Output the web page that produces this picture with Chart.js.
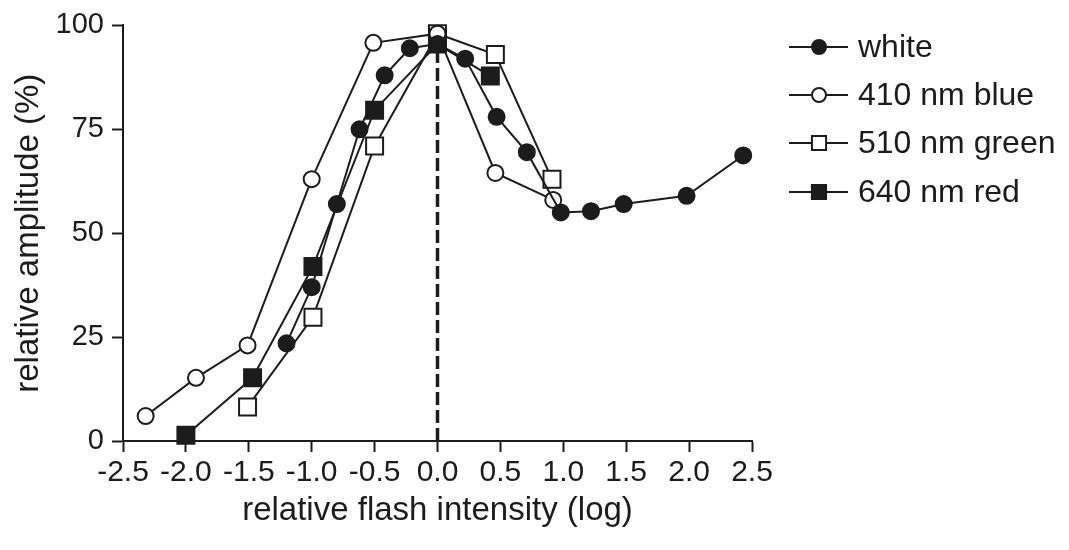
<!DOCTYPE html>
<html>
<head>
<meta charset="utf-8">
<script src="https://cdn.jsdelivr.net/npm/chart.js@4/dist/chart.umd.min.js"></script>
<style>
  html, body { margin: 0; padding: 0; background: #fff; }
  #wrap { width: 1069px; height: 550px; }
</style>
</head>
<body>
<div id="wrap"><canvas id="chart" width="1069" height="550"></canvas></div>
<script>
// values (x = log relative flash intensity, y = relative amplitude %)
const whiteX = [-1.2, -1.0, -0.8, -0.62, -0.42, -0.22, 0, 0.22, 0.47, 0.71, 0.98, 1.22, 1.48, 1.98, 2.43];
const whiteY = [23.5, 37, 57, 75, 88, 94.5, 95.5, 92, 78, 69.5, 55, 55.3, 57, 59, 68.7];

const blueX = [-2.32, -1.92, -1.51, -1.0, -0.51, 0, 0.46, 0.92];
const blueY = [6, 15.2, 23, 63, 95.8, 98, 64.5, 58];

const greenX = [-1.51, -0.99, -0.5, 0, 0.46, 0.91];
const greenY = [8.2, 29.8, 71, 98, 93, 63];

const redX = [-2.0, -1.47, -0.99, -0.5, 0, 0.42];
const redY = [1.4, 15.2, 42, 79.6, 95.5, 87.8];

const markerX = [0, 0];
const markerY = [0, 95];

const labels = ['white', '410 nm blue', '510 nm green', '640 nm red'];

const INK = '#1c1c1c';
const FONT = '"Liberation Sans", Arial, sans-serif';

function pts(xs, ys) {
    return xs.map((x, i) => ({ x: x, y: ys[i] }));
}

function series(label, xs, ys, style, filled, radius) {
    return {
        label: label,
        data: pts(xs, ys),
        showLine: true,
        borderColor: INK,
        borderWidth: 2,
        pointStyle: style,
        pointRadius: radius,
        pointHoverRadius: radius,
        pointBackgroundColor: filled ? INK : '#fff',
        pointBorderColor: INK,
        pointBorderWidth: 2,
        clip: false
    };
}

// legend drawn at the right, line + marker + text
const sideLegend = {
    id: 'sideLegend',
    afterDraw(chart) {
        const ctx = chart.ctx;
        const rows = [47, 95, 143, 192];
        ctx.save();
        chart.data.datasets.slice(0, 4).forEach((ds, i) => {
            const y = rows[i];
            ctx.strokeStyle = INK;
            ctx.lineWidth = 2;
            ctx.beginPath();
            ctx.moveTo(789, y);
            ctx.lineTo(848, y);
            ctx.stroke();
            ctx.fillStyle = ds.pointBackgroundColor;
            ctx.strokeStyle = INK;
            ctx.lineWidth = 2;
            Chart.helpers.drawPoint(ctx, {
                pointStyle: ds.pointStyle,
                rotation: 0,
                radius: ds.pointStyle === 'rect' ? 10 : 7,
                borderWidth: 2
            }, 819, y);
            ctx.fillStyle = INK;
            ctx.font = '32px ' + FONT;
            ctx.textBaseline = 'middle';
            ctx.textAlign = 'left';
            ctx.fillText(labels[i], 858, y + 1);
        });
        ctx.restore();
    }
};

new Chart(document.getElementById('chart'), {
    type: 'scatter',
    data: {
        datasets: [
            series(labels[0], whiteX, whiteY, 'circle', true, 8),
            series(labels[1], blueX, blueY, 'circle', false, 8),
            series(labels[2], greenX, greenY, 'rect', false, 12),
            series(labels[3], redX, redY, 'rect', true, 12),
            {
                label: 'zero',
                data: pts(markerX, markerY),
                showLine: true,
                borderColor: INK,
                borderWidth: 3.5,
                borderDash: [13, 5],
                pointRadius: 0,
                pointHoverRadius: 0
            }
        ]
    },
    plugins: [sideLegend],
    options: {
        responsive: false,
        animation: false,
        events: [],
        layout: { padding: { left: 0, top: 25, right: 317, bottom: 0 } },
        plugins: {
            legend: { display: false },
            tooltip: { enabled: false }
        },
        scales: {
            x: {
                type: 'linear',
                min: -2.5,
                max: 2.5,
                afterFit: s => { s.height = 109; },
                ticks: {
                    stepSize: 0.5,
                    color: INK,
                    padding: 3,
                    font: { family: FONT, size: 30 },
                    callback: v => v.toFixed(1)
                },
                grid: {
                    drawOnChartArea: false,
                    drawTicks: true,
                    tickLength: 11,
                    tickWidth: 2,
                    tickColor: INK
                },
                border: { display: true, color: INK, width: 2 },
                title: {
                    display: true,
                    text: 'relative flash intensity (log)',
                    color: INK,
                    font: { family: FONT, size: 33, weight: 'normal' },
                    padding: { top: 0, bottom: 19 }
                }
            },
            y: {
                type: 'linear',
                min: 0,
                max: 100,
                afterFit: s => { s.width = 123; },
                ticks: {
                    stepSize: 25,
                    color: INK,
                    padding: 8,
                    font: { family: FONT, size: 29 }
                },
                grid: {
                    drawOnChartArea: false,
                    drawTicks: true,
                    tickLength: 11,
                    tickWidth: 2,
                    tickColor: INK
                },
                border: { display: true, color: INK, width: 2 },
                title: {
                    display: true,
                    text: 'relative amplitude (%)',
                    color: INK,
                    font: { family: FONT, size: 33, weight: 'normal' },
                    padding: { top: 9, bottom: 0 }
                }
            }
        }
    }
});
</script>
</body>
</html>
